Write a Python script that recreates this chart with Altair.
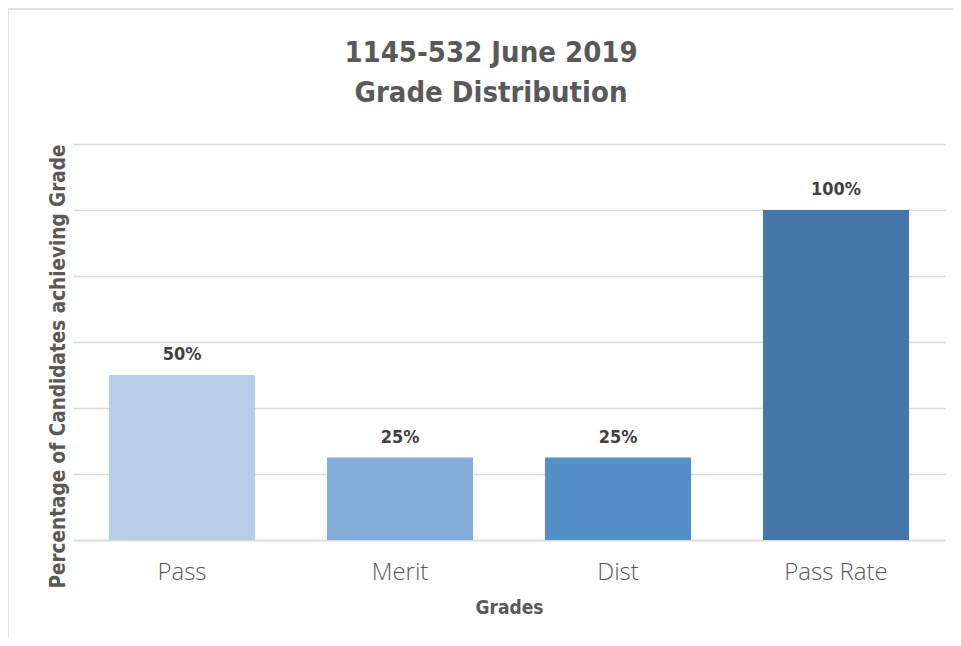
import altair as alt
import pandas as pd

grades = ["Pass", "Merit", "Dist", "Pass Rate"]
percent = [50, 25, 25, 100]
labels = ["50%", "25%", "25%", "100%"]
colors = ["#B7CDE8", "#83AEDA", "#5490C8", "#4577A8"]

df = pd.DataFrame({"grade": grades, "pct": percent, "label": labels})

COND = "DejaVu Sans Condensed"
GRAY = "#595959"

x = alt.X("grade:N", sort=grades, title="Grades",
          scale=alt.Scale(paddingInner=0.33, paddingOuter=0.165),
          axis=alt.Axis(labelAngle=0, labelFont="Open Sans", labelFontWeight=300,
                        labelFontSize=24, labelColor=GRAY, labelPadding=20,
                        ticks=False, domainColor="#d9d9d9", domainWidth=1.5,
                        titleFont=COND, titleFontWeight="bold", titleFontSize=19,
                        titleColor=GRAY, titlePadding=14))
y = alt.Y("pct:Q", title="Percentage of Candidates achieving Grade",
          scale=alt.Scale(domain=[0, 120], nice=False),
          axis=alt.Axis(values=[0, 20, 40, 60, 80, 100, 120], labels=False, ticks=False,
                        domain=False, gridColor="#d9d9d9", gridWidth=1.3,
                        titleFont=COND, titleFontWeight="bold", titleFontSize=20.5,
                        titleColor=GRAY, titleAngle=-90, titleBaseline="middle",
                        titleX=-15, titleY=222, titleAlign="center"))

bars = alt.Chart(df).mark_bar().encode(
    x=x, y=y,
    color=alt.Color("grade:N", sort=grades,
                    scale=alt.Scale(domain=grades, range=colors), legend=None),
)

text = alt.Chart(df).mark_text(font=COND, fontWeight="bold", fontSize=18,
                               color="#404040", baseline="alphabetic", dy=-15).encode(
    x=alt.X("grade:N", sort=grades), y="pct:Q", text="label:N")

frame = pd.DataFrame({"k": [0]})
left_line = alt.Chart(frame).mark_rule(color="#d9d9d9", strokeWidth=1.5).encode(
    x=alt.value(-65), y=alt.value(-135), y2=alt.value(500))
top_line = alt.Chart(frame).mark_rule(color="#d9d9d9", strokeWidth=1.5).encode(
    x=alt.value(-65), x2=alt.value(880), y=alt.value(-135))

chart = alt.layer(bars, text, left_line, top_line).properties(
    width=872, height=396,
    background="white",
    title=alt.TitleParams(["1145-532 June 2019", "Grade Distribution"],
                          font=COND, fontWeight="bold", fontSize=29, color=GRAY,
                          anchor="middle", dx=-18, offset=-100, lineHeight=40),
    autosize=alt.AutoSizeParams(type="none"),
    padding={"left": 65, "top": 136, "right": 8, "bottom": 98},
).configure_view(strokeWidth=0, stroke="transparent")

chart.save("out.html", embed_options={"renderer": "svg", "actions": False})
